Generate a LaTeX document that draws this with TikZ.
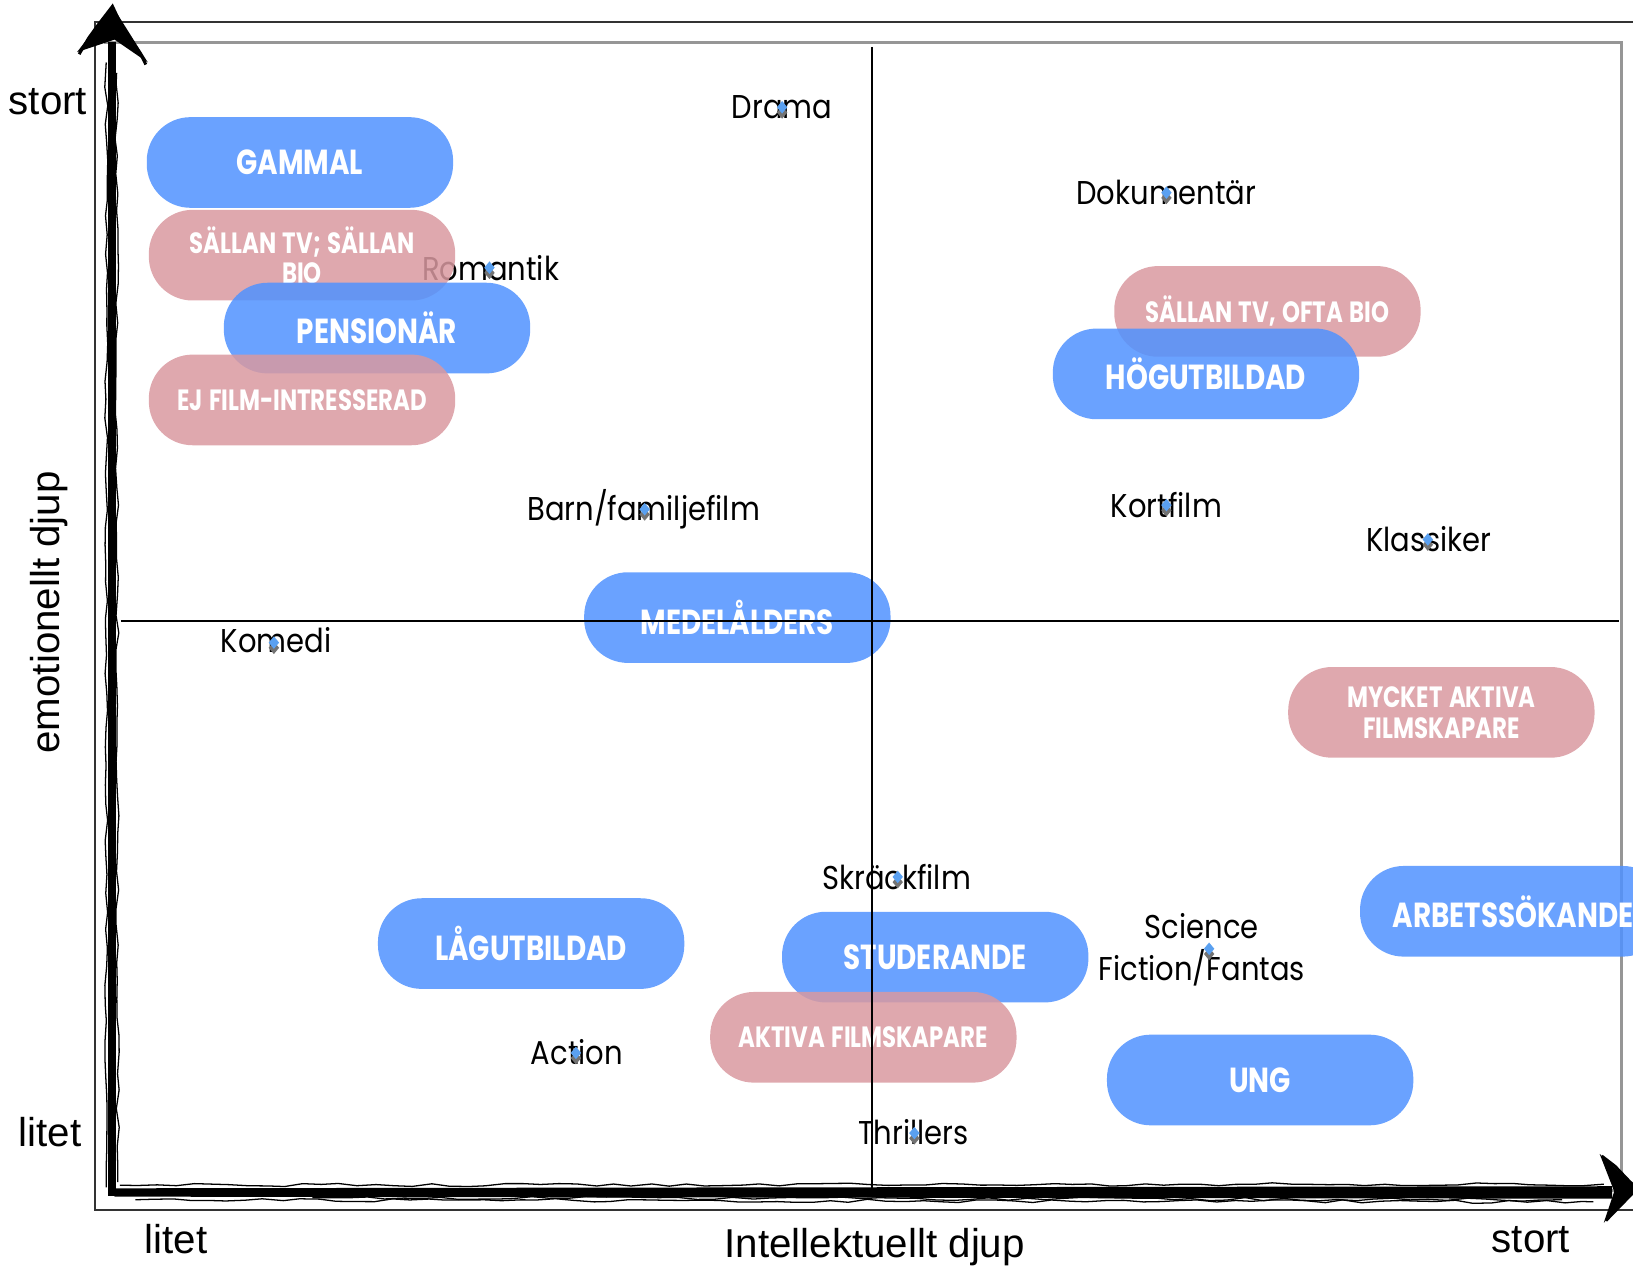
\documentclass[tikz,border=0pt]{standalone}
\usepackage{fontspec}
\setmainfont{Liberation Sans}
\newfontfamily\genrefont[FakeStretch=0.88]{Poppins}
\newfontfamily\groupfont[FakeStretch=0.8, WordSpace=1.3]{Poppins}
\newfontfamily\smallgroupfont[FakeStretch=0.78, WordSpace=1.35]{Poppins}
\usetikzlibrary{decorations.pathmorphing}

\definecolor{groupblue}{RGB}{80,146,255}
\definecolor{grouppink}{RGB}{217,153,160}
\definecolor{dotblue}{RGB}{90,160,240}
\definecolor{framegray}{RGB}{150,150,150}

\tikzset{
  group/.style={rounded corners=0.42cm, minimum width=2.94cm, minimum height=0.87cm,
    text=white, fill opacity=0.85, text opacity=1, align=center, inner sep=0pt,
    font=\groupfont\bfseries\fontsize{9.5}{11}\selectfont},
  bluegroup/.style={group, fill=groupblue},
  pinkgroup/.style={group, fill=grouppink, font=\smallgroupfont\bfseries\fontsize{8}{8.4}\selectfont},
  genre/.style={font=\genrefont\fontsize{9}{11.7}\selectfont, inner sep=0pt, align=center},
  axislabel/.style={font=\fontsize{11}{13}\selectfont, inner sep=0pt},
  rough/.style={line width=0.35pt, decorate, decoration={random steps, segment length=5pt, amplitude=0.45pt}}
}

\begin{document}
\begin{tikzpicture}[x=0.01cm, y=-0.01cm]
      \useasboundingbox (0,0) rectangle (1568,1220);
      \pgfmathsetseed{11}

      \draw[line width=0.45pt, black!80] (1600,21) -- (91,21) -- (91,1162) -- (1600,1162);
      \draw[line width=0.8pt, framegray] (100,41) -- (1557,41) -- (1557,1143) -- (108,1143);

      \node[genre] (drama) at (751,103) {Drama};
      \node[genre] (dokumentar) at (1120,185) {Dokumentär};
      \node[genre] (romantik) at (471,257) {Romantik};
      \node[genre] (barn) at (618,489) {Barn/familjefilm};
      \node[genre] (kortfilm) at (1120,485) {Kortfilm};
      \node[genre] (klassiker) at (1372,518) {Klassiker};
      \node[genre] (komedi) at (265,615) {Komedi};
      \node[genre] (skrack) at (861,842) {Skräckfilm};
      \node[genre] (scifi) at (1154,912) {Science\\Fiction/Fantas};
      \node[genre] (action) at (554,1010) {Action};
      \node[genre] (thrillers) at (877,1087) {Thrillers};

      \foreach \x/\y in {751/104, 1120/186, 470/258, 619/490, 1120/486, 1371/519,
          263/618, 862/843, 1161/912, 553/1012, 878/1089} {
          \fill[black!55] (\x,\y-2) -- (\x+5,\y+4) -- (\x,\y+10) -- (\x-5,\y+4) -- cycle;
          \fill[dotblue] (\x,\y-7) -- (\x+5,\y-1) -- (\x,\y+5) -- (\x-5,\y-1) -- cycle;
        }

      \node[bluegroup] (gammal) at (288,156) {GAMMAL};
      \node[pinkgroup] (sallan) at (290,245) {SÄLLAN TV; SÄLLAN\\BIO};
      \node[bluegroup] (pensionar) at (362,315) {PENSIONÄR};
      \node[pinkgroup] (ejfilm) at (290,384) {EJ FILM-INTRESSERAD};
      \node[pinkgroup] (oftabio) at (1217,299) {SÄLLAN TV, OFTA BIO};
      \node[bluegroup] (hogutb) at (1158,359) {HÖGUTBILDAD};
      \node[bluegroup] (medel) at (708,593) {MEDELÅLDERS};
      \node[pinkgroup] (mycket) at (1384,684) {MYCKET AKTIVA\\FILMSKAPARE};
      \node[bluegroup] (arbets) at (1453,875) {ARBETSSÖKANDE};
      \node[bluegroup] (lagutb) at (510,906) {LÅGUTBILDAD};
      \node[bluegroup] (stud) at (898,919) {STUDERANDE};
      \node[pinkgroup] (aktiva) at (829,996) {AKTIVA FILMSKAPARE};
      \node[bluegroup] (ung) at (1210,1037) {UNG};

      \coordinate (qtop) at (837,45);
      \coordinate (qbottom) at (837,1143);
      \coordinate (qleft) at (116,596);
      \coordinate (qright) at (1555,596);
      \draw[line width=0.6pt] (qtop) -- (qbottom);
      \draw[line width=0.6pt] (qleft) -- (qright);

      \coordinate (origin) at (107,1145);
      \coordinate (ytip) at (108,6);
      \coordinate (xtip) at (1572,1141);
      \fill (104,1148) -- (104,40) -- (111,40) -- (111,1148) -- cycle;
      \draw[rough] (102,1140) -- (102,60);
      \draw[rough] (113,1135) -- (112,70);
      \fill (ytip) -- (142,60) -- (110,38) -- (74,50) -- cycle;
      \draw[rough, line width=0.8pt] (76,52) -- (ytip) -- (140,62);
      \fill (origin) ++(0,-4) -- (1548,1139) -- (1548,1151) -- (110,1149) -- cycle;
      \draw[rough] (115,1138) -- (1540,1137);
      \draw[rough] (130,1152) -- (1530,1154);
      \draw[rough] (300,1150) -- (1500,1152);
      \fill (1536,1108) -- (xtip) -- (1540,1174) -- (1550,1144) -- cycle;
      \draw[rough, line width=0.8pt] (1538,1110) -- (xtip) -- (1542,1172);

      \node[axislabel] (ytop) at (46,98) {stort};
      \node[axislabel] (ybottom) at (48,1087) {litet};
      \node[axislabel] (xleft) at (169,1190) {litet};
      \node[axislabel] (xright) at (1470,1190) {stort};
      \node[axislabel] (xtitle) at (840,1197) {Intellektuellt djup};
      \node[axislabel, rotate=90] (ytitle) at (47,588) {emotionellt djup};
    \end{tikzpicture}
\end{document}
